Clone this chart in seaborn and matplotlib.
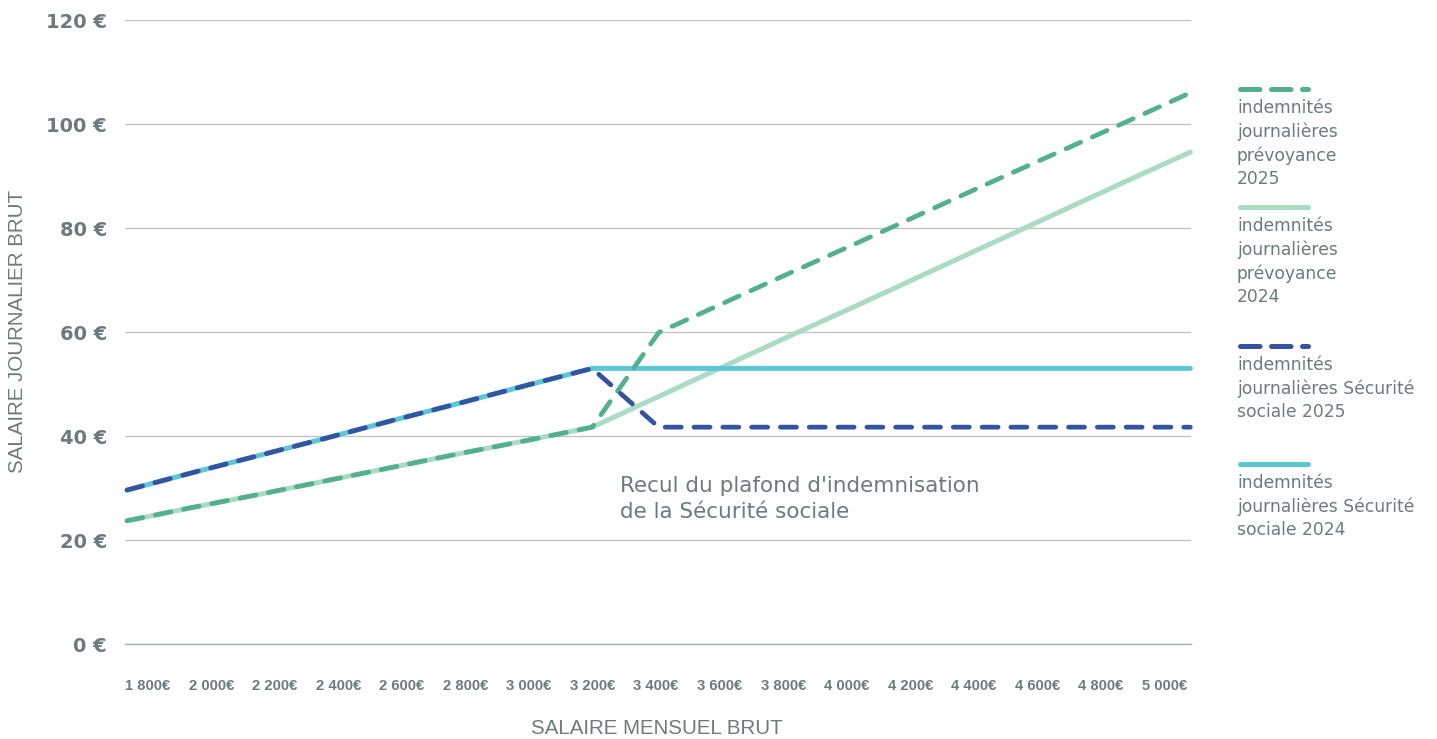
import matplotlib
matplotlib.use("Agg")
import matplotlib.pyplot as plt
from matplotlib.lines import Line2D
import numpy as np
import pandas as pd
import seaborn as sns

# Salaire mensuel brut (€) et indemnités journalières (€ / jour)
salaires = [1800, 2000, 2200, 2400, 2600, 2800, 3000, 3200, 3400,
            3600, 3800, 4000, 4200, 4400, 4600, 4800, 5000]
ij_prevoyance_2025 = [23.7, 26.3, 28.8, 31.4, 34.0, 36.6, 39.1, 41.7, 59.9,
                      65.7, 71.5, 77.2, 83.0, 88.8, 94.5, 100.2, 106.0]
ij_prevoyance_2024 = [23.7, 26.3, 28.8, 31.4, 34.0, 36.6, 39.1, 41.7, 47.6,
                      53.5, 59.4, 65.2, 71.1, 77.0, 82.9, 88.8, 94.6]
ij_secu_2025 = [29.6, 33.0, 36.3, 39.6, 43.0, 46.3, 49.7, 53.0, 41.7,
                41.7, 41.7, 41.7, 41.7, 41.7, 41.7, 41.7, 41.7]
ij_secu_2024 = [29.6, 33.0, 36.3, 39.6, 43.0, 46.3, 49.7, 53.0, 53.0,
                53.0, 53.0, 53.0, 53.0, 53.0, 53.0, 53.0, 53.0]

x_labels = ["1\u00a0800€", "2\u00a0000€", "2\u00a0200€", "2\u00a0400€", "2\u00a0600€",
            "2\u00a0800€", "3\u00a0000€", "3\u00a0200€", "3\u00a0400€", "3\u00a0600€",
            "3\u00a0800€", "4\u00a0000€", "4\u00a0200€", "4\u00a0400€", "4\u00a0600€",
            "4\u00a0800€", "5\u00a0000€"]
y_ticks = [0, 20, 40, 60, 80, 100, 120]
y_labels = ["0 €", "20 €", "40 €", "60 €", "80 €", "100 €", "120 €"]

legend_labels = [
    "indemnités\njournalières\nprévoyance\n2025",
    "indemnités\njournalières\nprévoyance\n2024",
    "indemnités\njournalières Sécurité\nsociale 2025",
    "indemnités\njournalières Sécurité\nsociale 2024",
]

VERT = "#52b08f"
VERT_CLAIR = "#aadcc5"
BLEU = "#3553a3"
CYAN = "#5cc8d6"
GRIS_TEXTE = "#6c7a7e"
GRIS_GRILLE = "#c4c4c4"

sns.set_theme(style="white")
plt.rcParams["font.family"] = ["DejaVu Sans"]

W, H = 1437, 739
fig = plt.figure(figsize=(W / 100, H / 100), dpi=100)
ax = fig.add_axes([125 / W, 95 / H, (1191 - 125) / W, 624 / H])

df = pd.DataFrame({
    "salaire": salaires,
    "prev_2025": ij_prevoyance_2025,
    "prev_2024": ij_prevoyance_2024,
    "secu_2025": ij_secu_2025,
    "secu_2024": ij_secu_2024,
})

DASH = (3.4, 2.7)
series = [
    ("prev_2024", VERT_CLAIR, 3.6, None),
    ("secu_2024", CYAN, 3.6, None),
    ("prev_2025", VERT, 3.4, DASH),
    ("secu_2025", BLEU, 3.4, DASH),
]
for col, color, lw, dash in series:
    sns.lineplot(data=df, x="salaire", y=col, ax=ax, color=color, linewidth=lw)
    line = ax.lines[-1]
    line.set_clip_on(False)
    line.set_solid_capstyle("round")
    line.set_dash_capstyle("round")
    line.set_solid_joinstyle("round")
    line.set_dash_joinstyle("round")
    if dash is not None:
        line.set_dashes(dash)

ax.set_xlim(1794, 5002)
ax.set_ylim(0, 120)

# grille horizontale
ax.set_yticks(y_ticks)
ax.set_yticklabels(y_labels)
ax.grid(axis="y", color=GRIS_GRILLE, linewidth=1.0)
ax.grid(axis="x", visible=False)
ax.set_axisbelow(True)
for side in ["top", "right", "left"]:
    ax.spines[side].set_visible(False)
ax.spines["bottom"].set_color("#a9b2b2")
ax.spines["bottom"].set_linewidth(1.0)

ax.tick_params(axis="y", length=0, pad=13, labelsize=14, labelcolor=GRIS_TEXTE)
for t in ax.get_yticklabels():
    t.set_fontweight("bold")

# étiquettes de l'axe des salaires
ax.set_xticks(np.linspace(1863, 4922, len(x_labels)))
ax.set_xticklabels(x_labels)
ax.tick_params(axis="x", length=0, pad=25, labelsize=10.6, labelcolor=GRIS_TEXTE)
for t in ax.get_xticklabels():
    t.set_fontweight("bold")
    t.set_family(["Liberation Sans", "DejaVu Sans"])

ax.set_xlabel("")
ax.set_ylabel("")

narrow = ["Liberation Sans Narrow", "Liberation Sans", "DejaVu Sans"]
fig.text(657 / W, 1 - 729 / H, "SALAIRE MENSUEL BRUT", ha="center", va="center",
         fontsize=14.8, color=GRIS_TEXTE, family=narrow)
fig.text(18 / W, 1 - 331 / H, "SALAIRE JOURNALIER BRUT", ha="center", va="center",
         rotation=90, fontsize=14.8, color=GRIS_TEXTE, family=narrow)

fig.text(620 / W, 1 - 476 / H, "Recul du plafond d'indemnisation\nde la Sécurité sociale",
         ha="left", va="top", fontsize=15.5, color=GRIS_TEXTE, linespacing=1.4)

# légende à droite
legend_items = [
    (VERT, DASH, 89),
    (VERT_CLAIR, None, 207),
    (BLEU, DASH, 346),
    (CYAN, None, 464),
]
for (color, dash, ypix), label in zip(legend_items, legend_labels):
    ln = Line2D([1240 / W, 1308 / W], [1 - ypix / H, 1 - ypix / H],
                transform=fig.transFigure, color=color, linewidth=3.6,
                solid_capstyle="round", dash_capstyle="round")
    if dash is not None:
        ln.set_dashes((3.9, 2.3))
    fig.add_artist(ln)
    fig.text(1237 / W, 1 - (ypix + 10) / H, label, ha="left", va="top",
             fontsize=12.3, color=GRIS_TEXTE, linespacing=1.38)

fig.savefig("out.png", dpi=100)
